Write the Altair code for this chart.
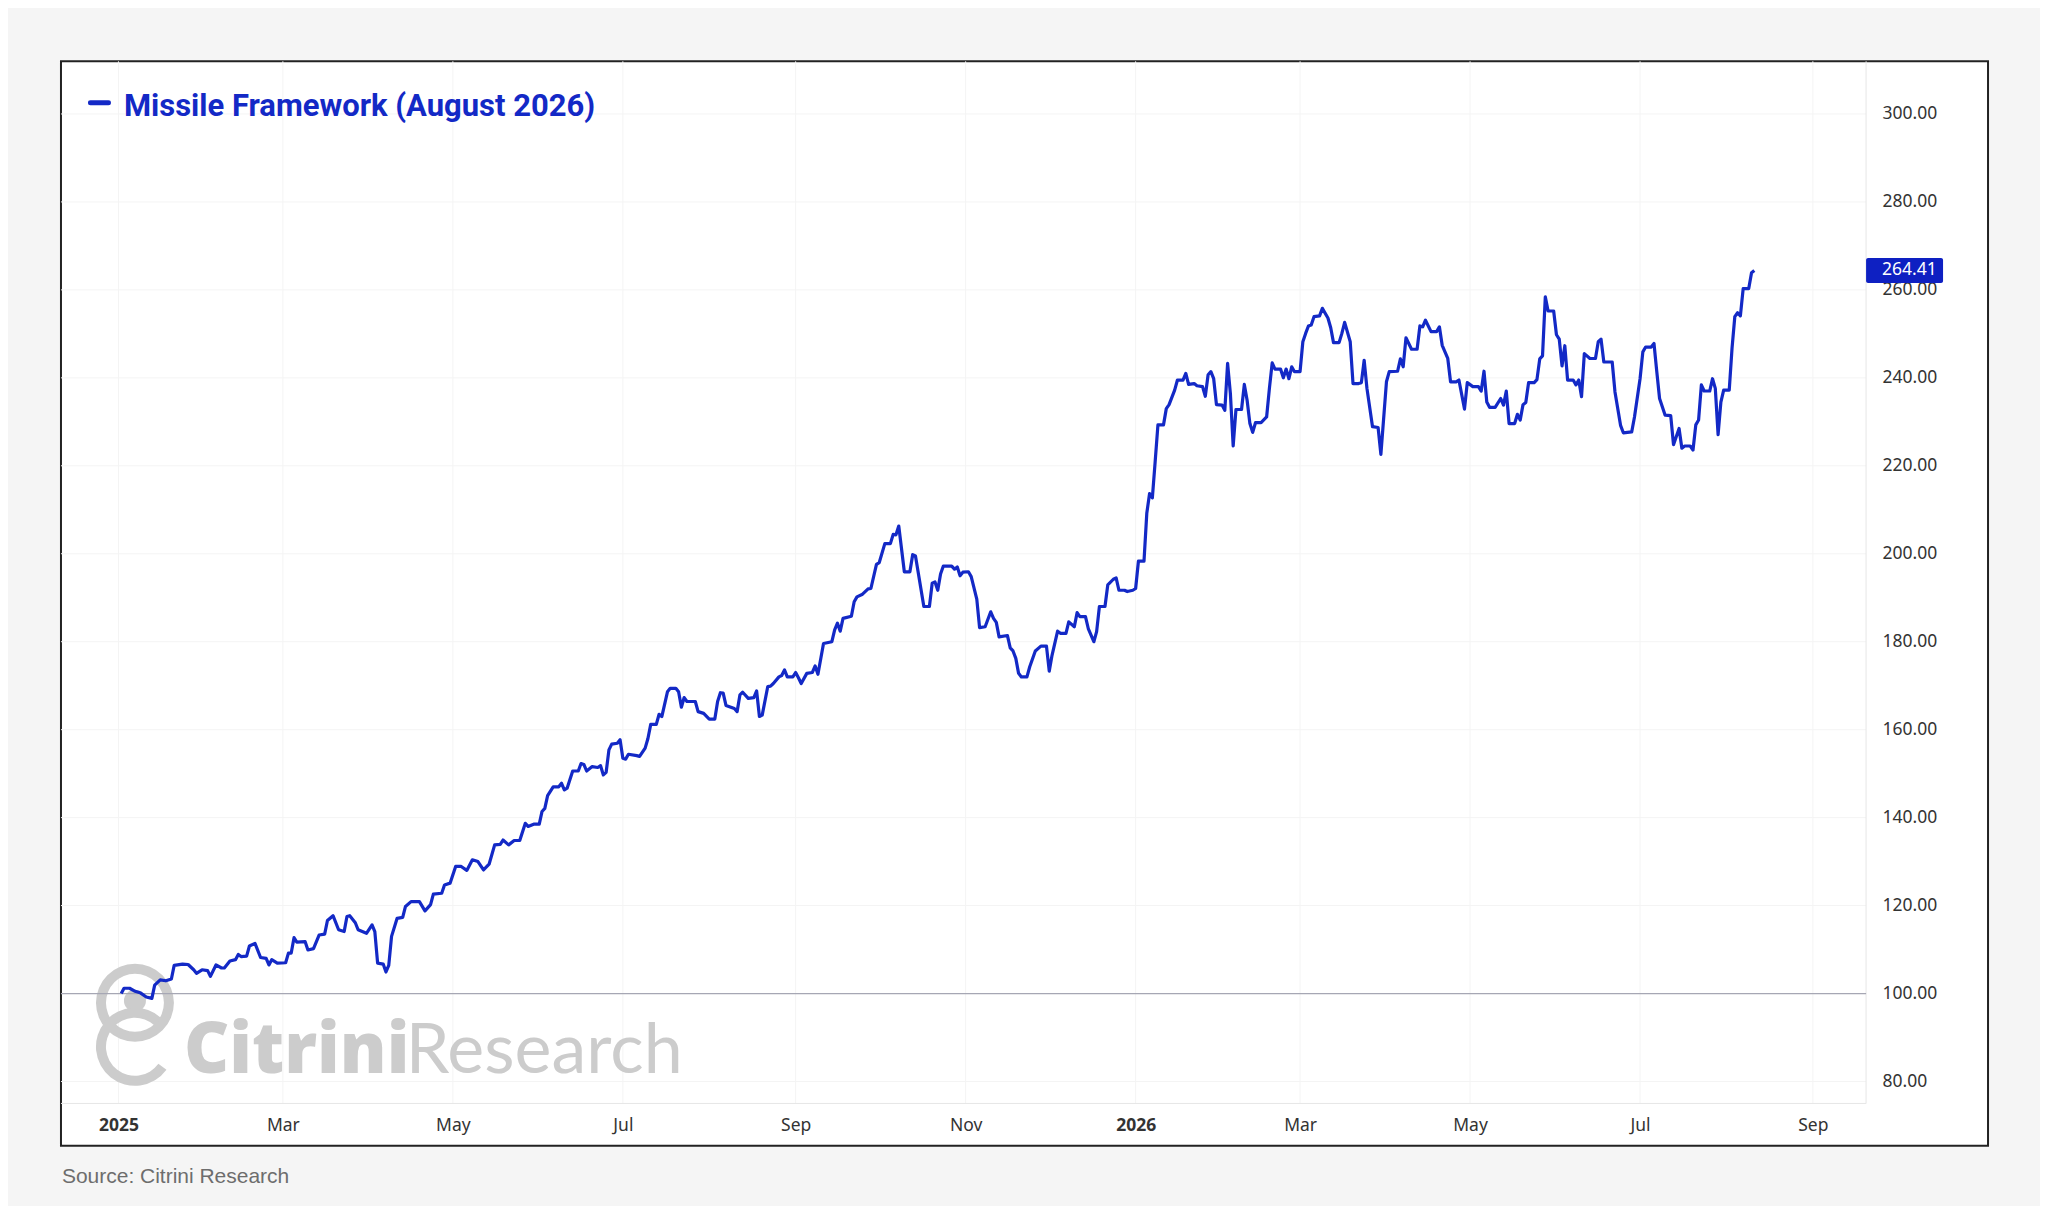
import altair as alt
import pandas as pd

START = "2025-01-01"
SERIES_NAME = "Missile Framework (August 2026)"
SOURCE = "Source: Citrini Research"

# day offsets from START and index values
days_a = [1, 2, 4, 6, 8, 10, 12, 13, 15, 17,
          19, 20, 23, 25, 27, 28, 30, 32, 33, 35,
          37, 38, 40, 42, 43, 44, 46, 47, 49, 51,
          53, 54, 55, 57, 60, 61, 62, 63, 64, 67,
          68, 70, 72, 74, 75, 77, 79, 81, 82, 83,
          85, 86, 89, 91, 92, 93, 95, 96, 97, 98,
          100, 102, 103, 105, 108, 110, 112, 113, 116, 117,
          119, 121, 123, 125, 127, 129, 131, 133, 135, 137,
          138, 140, 142, 144]
vals_a = [100.0, 101.2, 101.2, 100.5, 100.1, 99.2, 98.9, 101.9, 103.1, 102.9,
          103.3, 106.4, 106.7, 106.6, 105.4, 104.6, 105.4, 105.2, 103.9, 106.5,
          105.8, 105.8, 107.4, 107.7, 108.9, 108.4, 108.5, 110.8, 111.4, 108.2,
          108.0, 106.5, 107.7, 106.9, 107.0, 109.2, 109.2, 112.7, 111.7, 111.8,
          109.9, 110.2, 113.3, 113.5, 116.6, 117.7, 114.5, 114.1, 117.5, 117.7,
          116.1, 114.5, 113.7, 115.6, 114.1, 106.9, 106.7, 104.9, 106.4, 113.0,
          117.1, 117.3, 119.8, 120.9, 120.9, 118.8, 120.2, 122.6, 122.8, 124.7,
          125.1, 128.9, 128.9, 128.0, 130.4, 130.0, 128.1, 129.4, 133.8, 133.9,
          134.9, 133.8, 134.8, 134.8]

days_b = [146, 147, 149, 151, 152, 153, 154, 156, 158, 159,
          160, 161, 163, 165, 166, 167, 168, 170, 172, 173,
          174, 175, 176, 177, 179, 180, 181, 182, 183, 186,
          187, 189, 190, 191, 193, 194, 195, 197, 198, 200,
          201, 202, 203, 204, 207, 208, 210, 212, 214, 215,
          216, 217, 218, 221, 222, 223, 224, 226, 228, 229,
          230, 231, 233, 234, 235, 237, 238, 239, 240, 242,
          243, 244, 245, 247, 249, 250, 251, 253, 256, 257,
          258, 259, 260, 263, 264, 265, 267, 269, 270, 272,
          273]
vals_b = [138.7, 138.0, 138.5, 138.5, 141.4, 142.1, 145.0, 147.0, 147.0, 147.8,
          146.3, 146.7, 150.6, 150.6, 152.3, 152.1, 150.6, 151.6, 151.4, 151.8,
          149.7, 150.3, 155.4, 156.7, 156.9, 157.7, 153.5, 153.3, 154.4, 154.1,
          153.9, 155.8, 158.0, 161.2, 161.2, 163.5, 163.0, 168.6, 169.4, 169.4,
          168.6, 165.1, 167.3, 166.4, 166.4, 164.1, 163.7, 162.4, 162.4, 166.4,
          168.4, 168.3, 165.5, 164.8, 164.1, 167.9, 168.5, 167.1, 167.3, 168.8,
          163.0, 163.3, 169.8, 169.9, 170.5, 172.0, 172.3, 173.6, 172.0, 172.0,
          173.0, 171.8, 170.5, 172.8, 173.0, 174.5, 172.6, 179.6, 180.0, 182.7,
          184.2, 182.4, 185.3, 185.8, 189.1, 190.2, 190.8, 192.0, 192.1, 197.6,
          198.0]

days_c = [275, 277, 278, 279, 280, 282, 284, 285, 286, 289,
          291, 292, 293, 294, 295, 296, 299, 300, 301, 302,
          303, 305, 306, 308, 309, 311, 313, 314, 315, 316,
          319, 320, 321, 322, 323, 324, 326, 327, 329, 331,
          333, 334, 335, 337, 338, 340, 341, 343, 344, 345,
          347, 348, 350, 351, 352, 354, 355, 357, 358, 359,
          361, 362, 364, 365, 366, 368, 369, 370, 371, 372,
          373, 375, 376, 377, 379, 380]
vals_c = [202.3, 202.3, 204.4, 204.3, 206.3, 195.9, 195.9, 199.8, 199.5, 188.0,
          188.0, 193.3, 193.6, 191.7, 195.4, 197.2, 197.2, 196.5, 197.0, 195.0,
          195.8, 195.9, 194.8, 189.7, 183.2, 183.4, 186.8, 185.3, 184.4, 181.1,
          181.4, 178.6, 177.9, 176.2, 172.8, 172.0, 172.0, 174.3, 177.9, 179.0,
          179.0, 173.3, 176.9, 182.4, 181.9, 181.9, 184.5, 183.4, 186.6, 185.7,
          185.7, 183.0, 180.0, 182.3, 188.0, 188.0, 192.9, 194.2, 194.5, 191.7,
          191.7, 191.4, 191.7, 192.1, 198.3, 198.3, 209.2, 213.7, 212.7, 220.9,
          229.3, 229.3, 233.0, 233.9, 237.2, 239.5]

days_d = [382, 383, 384, 386, 387, 389, 390, 391, 392, 393,
          394, 396, 397, 398, 399, 400, 401, 403, 404, 405,
          406, 407, 408, 410, 412, 413, 414, 415, 417, 418,
          419, 420, 421, 422, 424, 425, 426, 427, 428, 429,
          431, 432, 434, 435, 436, 438, 439, 440, 442, 443,
          445, 446, 447, 448, 450, 452, 453, 455, 456, 459,
          460, 461, 462, 464, 466, 467, 468, 469, 471, 473,
          474, 475, 477, 478, 480, 481, 483, 484, 486, 488]
vals_d = [239.5, 241.0, 238.5, 238.7, 238.2, 238.0, 235.8, 240.7, 241.4, 239.8,
          233.9, 233.8, 232.6, 243.3, 236.4, 224.5, 232.8, 232.8, 238.5, 234.9,
          229.6, 227.6, 229.8, 229.8, 231.1, 237.6, 243.4, 242.0, 242.0, 240.0,
          242.0, 239.8, 242.5, 241.4, 241.4, 248.2, 250.1, 251.8, 252.0, 253.9,
          254.1, 255.8, 253.6, 251.4, 248.0, 248.0, 250.1, 252.6, 248.2, 238.7,
          238.7, 238.9, 244.0, 237.6, 228.9, 228.7, 222.6, 239.1, 241.4, 241.5,
          244.3, 242.5, 249.1, 246.5, 246.5, 251.8, 251.6, 253.1, 250.5, 250.5,
          251.6, 247.4, 244.4, 239.1, 239.1, 239.5, 232.9, 238.9, 238.0, 238.0]

days_e = [489, 490, 491, 492, 494, 496, 497, 498, 499, 501,
          502, 503, 504, 505, 506, 508, 509, 510, 511, 512,
          513, 515, 516, 517, 518, 519, 520, 522, 523, 524,
          525, 526, 528, 530, 531, 532, 533, 536, 537, 539,
          540, 543, 544, 546, 547, 548, 550, 551, 552, 553,
          555, 557, 558, 560, 561, 562, 564, 565, 566, 567,
          568, 569, 571, 572, 573, 574, 575, 576, 578, 579,
          580, 581, 582, 583, 585, 586, 587]
vals_e = [237.0, 241.5, 234.5, 233.3, 233.3, 235.3, 233.8, 237.0, 229.6, 229.6,
          231.7, 230.4, 233.9, 234.4, 238.9, 238.9, 239.6, 244.3, 245.0, 258.4,
          255.2, 255.2, 249.8, 248.8, 242.7, 247.3, 239.5, 239.5, 238.4, 239.5,
          235.7, 245.5, 244.4, 244.4, 248.2, 248.8, 243.6, 243.6, 236.8, 229.2,
          227.5, 227.7, 231.1, 239.8, 245.9, 247.0, 247.0, 247.8, 241.4, 235.3,
          231.5, 231.4, 224.8, 228.5, 224.0, 224.5, 224.5, 223.6, 229.3, 230.4,
          238.4, 237.0, 237.0, 239.8, 237.6, 227.1, 234.5, 237.2, 237.2, 246.7,
          253.9, 254.8, 254.1, 260.3, 260.3, 263.9, 264.41]

y_ticks = [80, 100, 120, 140, 160, 180, 200, 220, 240, 260, 280, 300]
x_ticks = ["2025-01-01", "2025-03-01", "2025-05-01", "2025-07-01", "2025-09-01",
           "2025-11-01", "2026-01-01", "2026-03-01", "2026-05-01", "2026-07-01",
           "2026-09-01"]

BLUE = "#1329c6"
LABEL_BLUE = "#0e20c2"
WM = "#cccccc"
PLOT_W, PLOT_H = 1928, 1085
SEP_X, SEP_Y = 1806, 1042.7

days = days_a + days_b + days_c + days_d + days_e
vals = vals_a + vals_b + vals_c + vals_d + vals_e
df = pd.DataFrame({
    "date": pd.Timestamp(START) + pd.to_timedelta(days, unit="D"),
    "value": vals,
})

last = df.tail(1).copy()
last["label"] = [f"{v:.2f}" for v in last["value"]]
half = 12.5 / 4.4
last["top"] = last["value"] + half
last["bot"] = last["value"] - half


def dt(s, h=0, m=0):
    t = pd.Timestamp(s)
    return alt.DateTime(year=t.year, month=t.month, date=t.day, hours=h, minutes=m)


xscale = alt.Scale(domain=[dt("2024-12-11", 9, 7), dt("2026-11-02", 20, 38)])
yscale = alt.Scale(domain=[65.39, 311.98], nice=False, zero=False)

xaxis = alt.Axis(
    values=[dt(s) for s in x_ticks], orient="bottom", offset=-42.3,
    grid=False, domain=False, ticks=False, title=None,
    labelExpr="month(datum.value) == 0 ? timeFormat(datum.value, '%Y') : timeFormat(datum.value, '%b')",
    labelFontWeight=alt.condition("month(datum.value) == 0", alt.value("bold"), alt.value("normal")),
    labelFont="Noto Sans", labelFontSize=17.5, labelColor="#333333",
    labelPadding=22, labelBaseline="middle", labelFlush=False, labelBound=False,
    labelOverlap=False,
)
yaxis = alt.Axis(
    values=y_ticks, orient="right", offset=-122, format=".2f",
    grid=False, domain=False, ticks=False, title=None,
    labelFont="Noto Sans", labelFontSize=17.5, labelColor="#333333",
    labelAlign="left", labelBaseline="middle", labelPadding=16,
    labelFlush=False, labelBound=False, labelOverlap=False,
)

X = alt.X("date:T", scale=xscale, axis=xaxis)
Y = alt.Y("value:Q", scale=yscale, axis=yaxis)
one = pd.DataFrame({"a": [0]})

grid_h = alt.Chart(pd.DataFrame({"value": y_ticks})).mark_rule(
    color="#f4f4f4", strokeWidth=1).encode(y=Y, x=alt.value(0), x2=alt.value(SEP_X))
grid_v = alt.Chart(pd.DataFrame({"date": pd.to_datetime(x_ticks)})).mark_rule(
    color="#f4f4f4", strokeWidth=1).encode(x=X, y=alt.value(0), y2=alt.value(SEP_Y))
sep_v = alt.Chart(one).mark_rule(color="#e6e6e6", strokeWidth=1).encode(
    x=alt.value(SEP_X), y=alt.value(0), y2=alt.value(SEP_Y))
sep_h = alt.Chart(one).mark_rule(color="#e6e6e6", strokeWidth=1).encode(
    x=alt.value(0), x2=alt.value(SEP_X), y=alt.value(SEP_Y))

ring = alt.Chart(one).mark_arc(radius=39, radius2=29, theta=0, theta2=6.2832, color=WM).encode(
    x=alt.value(74), y=alt.value(942))
head = alt.Chart(one).mark_arc(radius=11, radius2=0, theta=0, theta2=6.2832, color=WM).encode(
    x=alt.value(74), y=alt.value(940))
lower = alt.Chart(one).mark_arc(radius=39, radius2=29, theta=2.2, theta2=7.03, color=WM).encode(
    x=alt.value(74), y=alt.value(986))
wm1 = alt.Chart(one).mark_text(text="Citrini", font="Open Sans", fontWeight=800, fontSize=70,
                               color=WM, align="left", baseline="alphabetic").encode(
    x=alt.value(123), y=alt.value(1012))
wm2 = alt.Chart(one).mark_text(text="Research", font="Lato", fontWeight="normal", fontSize=70,
                               color=WM, align="left", baseline="alphabetic").encode(
    x=alt.value(345), y=alt.value(1012))

base100 = alt.Chart(pd.DataFrame({"value": [100]})).mark_rule(
    color="#a6a7b4", strokeWidth=1.2).encode(y=Y, x=alt.value(0), x2=alt.value(SEP_X))

line = alt.Chart(df).mark_line(color=BLUE, strokeWidth=3.2, strokeJoin="round").encode(x=X, y=Y)

tag_box = alt.Chart(last).mark_rect(color=LABEL_BLUE, cornerRadius=2).encode(
    y=alt.Y("top:Q", scale=yscale, axis=yaxis), y2="bot:Q",
    x=alt.value(SEP_X), x2=alt.value(1883))
tag_txt = alt.Chart(last).mark_text(color="white", font="Noto Sans", fontSize=17.5,
                                    align="left", baseline="middle").encode(
    y=Y, x=alt.value(1822), text="label:N")

leg_dash = alt.Chart(one).mark_rule(color=BLUE, strokeWidth=5, strokeCap="round").encode(
    x=alt.value(29.5), x2=alt.value(47.5), y=alt.value(41.5))
leg_txt = alt.Chart(one).mark_text(text=SERIES_NAME, font="Roboto", fontWeight="bold", fontSize=31,
                                   color=BLUE, align="left", baseline="alphabetic").encode(
    x=alt.value(63), y=alt.value(55))

src = alt.Chart(one).mark_text(text=SOURCE, font="Liberation Sans", fontSize=21, color="#6d6d6d",
                               align="left", baseline="alphabetic").encode(
    x=alt.value(1), y=alt.value(1122))

chart = alt.layer(
    grid_h, grid_v, sep_v, sep_h, ring, head, lower, wm1, wm2, base100, line,
    tag_box, tag_txt, leg_dash, leg_txt, src,
).properties(
    width=PLOT_W, height=PLOT_H, background="#f5f5f5",
    padding={"left": 52, "top": 52, "right": 52, "bottom": 40},
).configure_view(fill="white", stroke="#222222", strokeWidth=2)

chart.save("out.html", embed_options={"renderer": "svg", "actions": False})
